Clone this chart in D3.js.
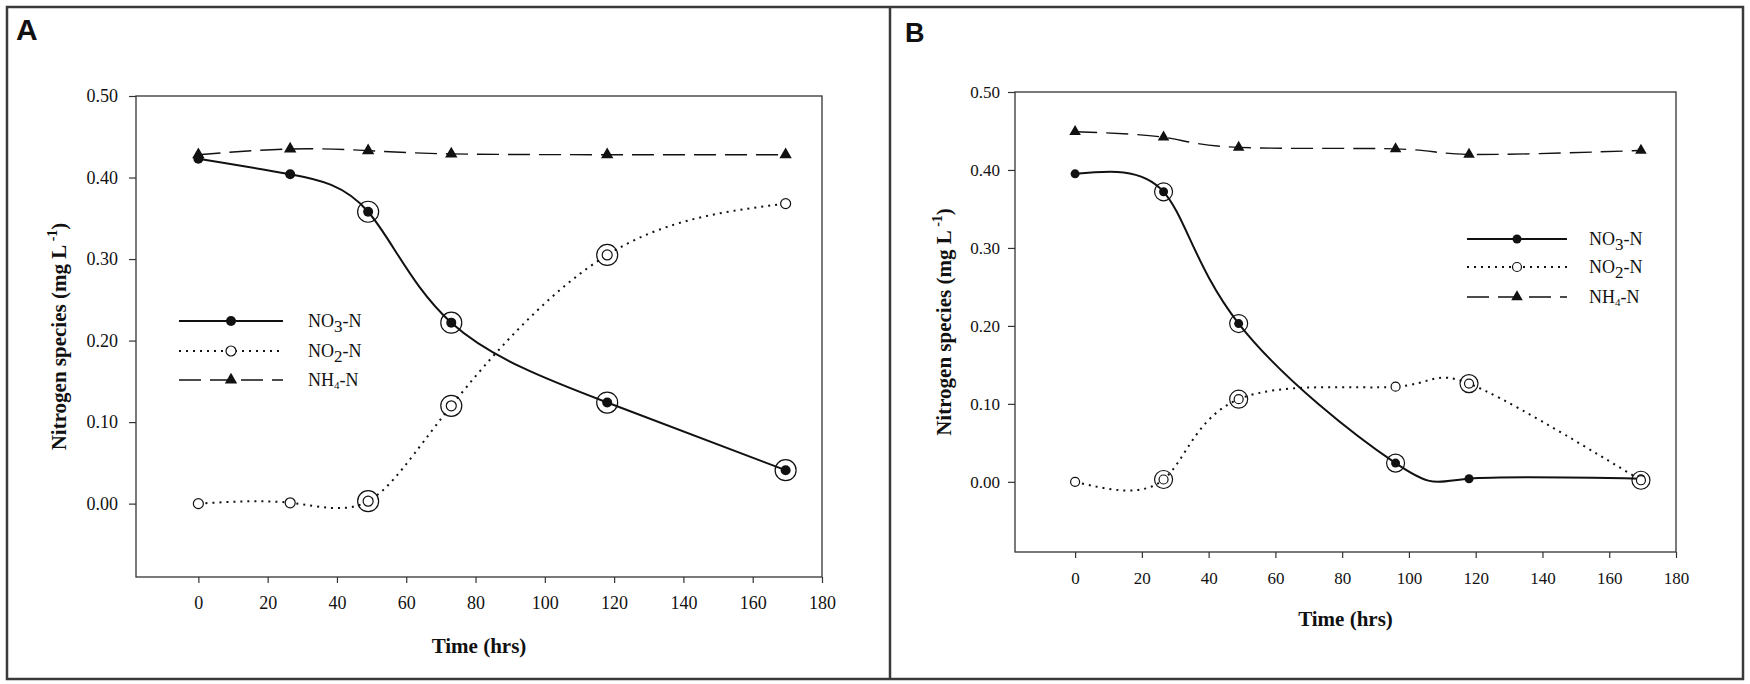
<!DOCTYPE html>
<html>
<head>
<meta charset="utf-8">
<script src="https://cdn.jsdelivr.net/npm/d3@7"></script>
<style>
  body { margin: 0; background: #fff; }
  svg text { font-family: "Liberation Serif", "Times New Roman", serif; fill: #111; }
</style>
</head>
<body>
<svg id="fig" width="1750" height="684"></svg>
<script>
/* Nitrogen species over time, panels A and B */

// sampling times (hrs)
var timesA = [0, 26.5, 49, 73, 118, 169.5];
var timesB = [0, 26.5, 49, 96, 118, 169.5];

// concentrations (mg/L)
var no3A = [0.423, 0.404, 0.358, 0.222, 0.124, 0.041];
var no2A = [0.000, 0.001, 0.003, 0.120, 0.305, 0.368];
var nh4A = [0.428, 0.435, 0.433, 0.429, 0.428, 0.428];

var no3B = [0.395, 0.372, 0.203, 0.024, 0.004, 0.004];
var no2B = [0.000, 0.003, 0.106, 0.122, 0.126, 0.002];
var nh4B = [0.449, 0.442, 0.429, 0.427, 0.420, 0.425];

// points that carry the extra outer circle (index into the arrays)
var ringNo3A = [2, 3, 4, 5];
var ringNo2A = [2, 3, 4];
var ringNo3B = [1, 2, 3];
var ringNo2B = [1, 2, 4, 5];

var xTicks = [0, 20, 40, 60, 80, 100, 120, 140, 160, 180];
var yTicks = [0, 0.1, 0.2, 0.3, 0.4, 0.5];
var xDomain = [-18, 180];
var yDomain = [-0.09, 0.5];

// legend labels: [main, subscript, rest]
var legendLabels = [["NO", "3", "-N"], ["NO", "2", "-N"], ["NH", "4", "-N"]];

var svg = d3.select("#fig");
var ink = "#111";

// outer frame + divider
svg.append("rect")
    .attr("x", 7).attr("y", 7).attr("width", 1736).attr("height", 672)
    .attr("fill", "none").attr("stroke", "#3a3a3a").attr("stroke-width", 2.5);
svg.append("line")
    .attr("x1", 890).attr("x2", 890).attr("y1", 7).attr("y2", 679)
    .attr("stroke", "#3a3a3a").attr("stroke-width", 2.5);

drawPanel({
  letter: "A", letterX: 16, letterY: 40, letterSize: 30,
  left: 136, right: 822, top: 96, bottom: 577,
  times: timesA, no3: no3A, no2: no2A, nh4: nh4A,
  ringNo3: ringNo3A, ringNo2: ringNo2A,
  r: 5, ringR: 10.5, tri: 66,
  tickFont: 18, yPad: 11, xPad: 13,
  yTitleX: 66, xTitleY: 653,
  legX0: 179, legX1: 283, legTextX: 308, legY: [321, 351, 380]
});

drawPanel({
  letter: "B", letterX: 905, letterY: 42, letterSize: 27,
  left: 1015, right: 1676, top: 92, bottom: 552,
  times: timesB, no3: no3B, no2: no2B, nh4: nh4B,
  ringNo3: ringNo3B, ringNo2: ringNo2B,
  r: 4.5, ringR: 9, tri: 58,
  tickFont: 17, yPad: 8, xPad: 14,
  yTitleX: 951, xTitleY: 626,
  legX0: 1467, legX1: 1567, legTextX: 1589, legY: [239, 267, 297]
});

function drawPanel(p) {
  var g = svg.append("g");

  svg.append("text")
      .attr("x", p.letterX).attr("y", p.letterY)
      .style("font-family", "'Liberation Sans', Arial, sans-serif")
      .style("font-weight", "bold")
      .style("font-size", p.letterSize + "px")
      .text(p.letter);

  var x = d3.scaleLinear().domain(xDomain).range([p.left, p.right]);
  var y = d3.scaleLinear().domain(yDomain).range([p.bottom, p.top]);

  // axes
  var yAxis = g.append("g")
      .attr("transform", "translate(" + p.left + ",0)")
      .call(d3.axisLeft(y).tickValues(yTicks).tickFormat(d3.format(".2f"))
            .tickSize(7).tickPadding(p.yPad));
  var xAxis = g.append("g")
      .attr("transform", "translate(0," + p.bottom + ")")
      .call(d3.axisBottom(x).tickValues(xTicks).tickSize(6).tickPadding(p.xPad));
  [xAxis, yAxis].forEach(function(a) {
    a.select(".domain").remove();
    a.selectAll("line").attr("stroke", "#333").attr("stroke-width", 1.2);
    a.selectAll("text")
        .style("font-family", "'Liberation Serif', 'Times New Roman', serif")
        .style("font-size", p.tickFont + "px")
        .attr("fill", ink);
  });

  // plot frame
  g.append("rect")
      .attr("x", p.left).attr("y", p.top)
      .attr("width", p.right - p.left).attr("height", p.bottom - p.top)
      .attr("fill", "none").attr("stroke", "#333").attr("stroke-width", 1.3);

  // axis titles
  var yt = g.append("text")
      .attr("transform", "translate(" + p.yTitleX + "," + ((p.top + p.bottom) / 2) + ") rotate(-90)")
      .attr("text-anchor", "middle")
      .style("font-weight", "bold").style("font-size", "21px");
  yt.append("tspan").text("Nitrogen species (mg L");
  yt.append("tspan").attr("dy", -9).style("font-size", "14px").text(" -1");
  yt.append("tspan").attr("dy", 9).text(")");

  g.append("text")
      .attr("x", (p.left + p.right) / 2).attr("y", p.xTitleY)
      .attr("text-anchor", "middle")
      .style("font-weight", "bold").style("font-size", "21px")
      .text("Time (hrs)");

  // lines
  var line = d3.line()
      .x(function(d) { return x(d[0]); })
      .y(function(d) { return y(d[1]); })
      .curve(d3.curveNatural);
  var pts = function(vals) { return p.times.map(function(t, i) { return [t, vals[i]]; }); };

  var styles = [
    { vals: p.no3, dash: null, w: 2 },
    { vals: p.no2, dash: "2,5", w: 2 },
    { vals: p.nh4, dash: "22,9", w: 1.4 }
  ];
  styles.forEach(function(s) {
    g.append("path")
        .attr("d", line(pts(s.vals)))
        .attr("fill", "none").attr("stroke", ink)
        .attr("stroke-width", s.w)
        .attr("stroke-dasharray", s.dash);
  });

  var triangle = d3.symbol(d3.symbolTriangle).size(p.tri);

  // markers
  g.selectAll(null).data(pts(p.nh4)).enter().append("path")
      .attr("d", triangle)
      .attr("transform", function(d) { return "translate(" + x(d[0]) + "," + y(d[1]) + ")"; })
      .attr("fill", ink);
  g.selectAll(null).data(pts(p.no3)).enter().append("circle")
      .attr("cx", function(d) { return x(d[0]); })
      .attr("cy", function(d) { return y(d[1]); })
      .attr("r", p.r).attr("fill", ink);
  g.selectAll(null).data(pts(p.no2)).enter().append("circle")
      .attr("cx", function(d) { return x(d[0]); })
      .attr("cy", function(d) { return y(d[1]); })
      .attr("r", p.r).attr("fill", "#fff").attr("stroke", ink).attr("stroke-width", 1.2);

  // outer circles
  var rings = p.ringNo3.map(function(i) { return [p.times[i], p.no3[i]]; })
      .concat(p.ringNo2.map(function(i) { return [p.times[i], p.no2[i]]; }));
  g.selectAll(null).data(rings).enter().append("circle")
      .attr("cx", function(d) { return x(d[0]); })
      .attr("cy", function(d) { return y(d[1]); })
      .attr("r", p.ringR).attr("fill", "none").attr("stroke", ink).attr("stroke-width", 1.2);

  // legend
  var lg = g.append("g");
  styles.forEach(function(s, i) {
    var ly = p.legY[i], mx = (p.legX0 + p.legX1) / 2;
    lg.append("line")
        .attr("x1", p.legX0).attr("x2", p.legX1).attr("y1", ly).attr("y2", ly)
        .attr("stroke", ink).attr("stroke-width", s.w)
        .attr("stroke-dasharray", s.dash);
    if (i === 0) {
      lg.append("circle").attr("cx", mx).attr("cy", ly).attr("r", p.r).attr("fill", ink);
    } else if (i === 1) {
      lg.append("circle").attr("cx", mx).attr("cy", ly).attr("r", p.r)
          .attr("fill", "#fff").attr("stroke", ink).attr("stroke-width", 1.2);
    } else {
      lg.append("path").attr("d", triangle)
          .attr("transform", "translate(" + mx + "," + ly + ")").attr("fill", ink);
    }
    var lab = legendLabels[i];
    var t = lg.append("text")
        .attr("x", p.legTextX).attr("y", ly + 6)
        .style("font-size", "18px");
    t.append("tspan").text(lab[0]);
    t.append("tspan").attr("dy", i === 2 ? 3 : 5)
        .style("font-size", i === 2 ? "11px" : "17px").text(lab[1]);
    t.append("tspan").attr("dy", i === 2 ? -3 : -5).text(lab[2]);
  });
}
</script>
</body>
</html>
